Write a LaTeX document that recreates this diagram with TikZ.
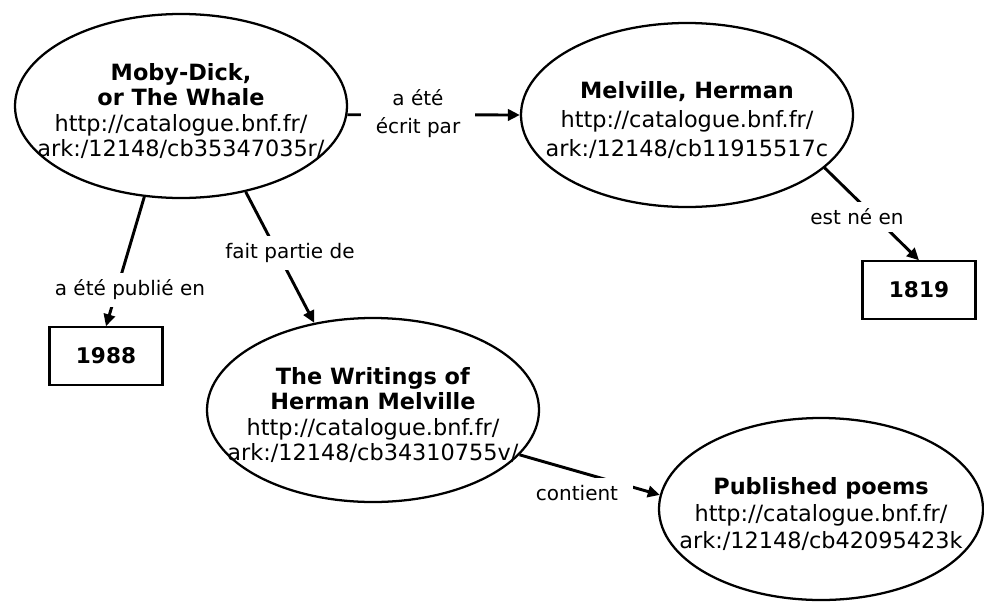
\documentclass[tikz,border=0pt]{standalone}
\usepackage{fontspec}
\setmainfont{DejaVu Sans}
\usetikzlibrary{shapes.geometric,arrows.meta}
\newcommand{\restext}[1]{\smash{\makebox[0pt]{\raisebox{-10pt}{\begin{tabular}{@{}c@{}}#1\end{tabular}}}}}

\begin{document}
\begin{tikzpicture}[x=0.75pt,y=0.75pt,yscale=-1,xscale=1,
  res/.style={draw,line width=1.7pt,ellipse,minimum width=249pt,minimum height=138pt,inner sep=0pt,font=\fontsize{16.8}{19}\selectfont},
  lit/.style={draw,line width=1.6pt,rectangle,minimum width=84.75pt,minimum height=43pt,inner sep=0pt,font=\fontsize{16.2}{19}\selectfont\bfseries},
  rel/.style={fill=white,inner xsep=11pt,inner ysep=5.5pt,align=center,font=\fontsize{15}{18}\selectfont},
  link/.style={line width=2.2pt,-{Triangle[length=9pt,width=8.5pt]}}]
\useasboundingbox (0,0) rectangle (984,603);

%Shape: Ellipse
\node[res] (moby) at (181,106) {\restext{\textbf{Moby-Dick,}\\\textbf{or The Whale}\\http://catalogue.bnf.fr/\\ark:/12148/cb35347035r/}};
%Shape: Ellipse
\node[res] (melville) at (687,115) {\restext{\textbf{Melville, Herman}\\[3pt]http://catalogue.bnf.fr/\\[3pt]ark:/12148/cb11915517c}};
%Shape: Ellipse
\node[res] (writings) at (373,410) {\restext{\textbf{The Writings of}\\\textbf{Herman Melville}\\http://catalogue.bnf.fr/\\ark:/12148/cb34310755v/}};
%Shape: Ellipse
\node[res,minimum width=243pt,minimum height=136.5pt] (poems) at (821,509) {\restext{\textbf{Published poems}\\[1.5pt]http://catalogue.bnf.fr/\\[1.5pt]ark:/12148/cb42095423k}};

%Shape: Rectangle
\node[lit] (y1988) at (106,356) {1988};
%Shape: Rectangle
\node[lit] (y1819) at (919,290) {1819};

%Straight Lines
\draw[link] (moby.-3) -- (melville.west);
\draw[link] (moby.248) -- (y1988.north);
\draw[link] (moby.307) -- (writings.124);
\draw[link] (melville.-21) -- (y1819.north);
\draw[link] (writings.-17) -- (poems.175);

% Text Node
\node[rel] (ecrit) at (418,114) {a été\\[3pt]écrit par};
% Text Node
\node[rel] (publie) at (130,290) {a été publié en};
% Text Node
\node[rel] (partie) at (290,253) {fait partie de};
% Text Node
\node[rel] (ne) at (857,217) {est né en};
% Text Node
\node[rel] (contient) at (577,493) {contient};

\end{tikzpicture}
\end{document}
